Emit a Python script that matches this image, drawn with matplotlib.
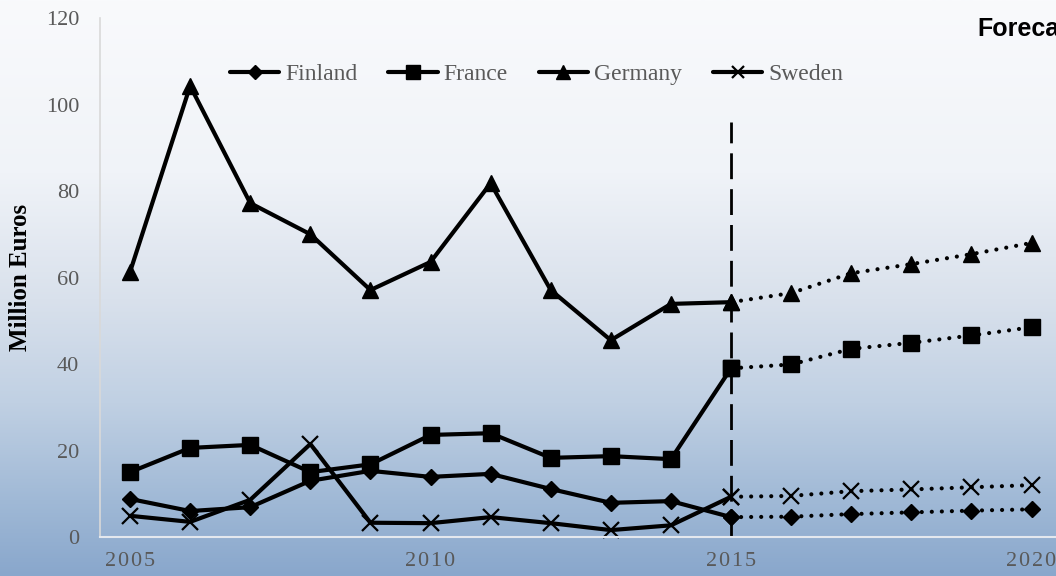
import numpy as np
import matplotlib
matplotlib.use("Agg")
import matplotlib.pyplot as plt
from matplotlib.colors import LinearSegmentedColormap

# Annual values, million euros (2005-2015 actual, 2015-2020 forecast)
years = [2005, 2006, 2007, 2008, 2009, 2010, 2011, 2012,
         2013, 2014, 2015, 2016, 2017, 2018, 2019, 2020]
finland = [8.8, 6.0, 6.9, 13.0, 15.3, 13.9, 14.6, 11.1,
           7.9, 8.3, 4.6, 4.7, 5.3, 5.7, 6.1, 6.4]
france = [15.0, 20.6, 21.3, 15.0, 16.8, 23.6, 24.0, 18.3,
          18.7, 18.0, 39.0, 39.9, 43.5, 44.9, 46.6, 48.5]
germany = [61.3, 104.3, 77.2, 70.0, 57.1, 63.6, 81.8, 57.1,
           45.5, 53.9, 54.3, 56.4, 61.0, 63.1, 65.4, 68.0]
sweden = [4.9, 3.5, 8.6, 21.5, 3.3, 3.2, 4.6, 3.2,
          1.6, 2.7, 9.3, 9.5, 10.6, 11.0, 11.5, 12.0]

countries = ["Finland", "France", "Germany", "Sweden"]
series = [finland, france, germany, sweden]
forecast_start = 2015
x_ticks = [2005, 2010, 2015, 2020]
y_ticks = [0, 20, 40, 60, 80, 100, 120]

markers = {"Finland": dict(marker="D", markersize=8.5),
           "France": dict(marker="s", markersize=12),
           "Germany": dict(marker="^", markersize=12),
           "Sweden": dict(marker="x", markersize=11, markeredgewidth=1.6)}

fig = plt.figure(figsize=(10.56, 5.76), dpi=100)

# vertical background gradient over the whole figure
bg = fig.add_axes([0, 0, 1, 1], zorder=-10)
grad_cmap = LinearSegmentedColormap.from_list(
    "bg", [(0.00, (249/255, 250/255, 252/255)),
           (0.30, (240/255, 243/255, 248/255)),
           (0.52, (217/255, 225/255, 236/255)),
           (0.70, (192/255, 208/255, 227/255)),
           (0.87, (160/255, 185/255, 214/255)),
           (1.00, (137/255, 167/255, 204/255))])
bg.imshow(np.linspace(0, 1, 256).reshape(-1, 1), aspect="auto",
          cmap=grad_cmap, extent=[0, 1, 0, 1])
bg.set_axis_off()

ax = fig.add_axes([0.0947, 0.0677, 0.9106, 0.9010])
ax.set_facecolor("none")

yrs = np.array(years)
hist = yrs <= forecast_start
fut = yrs >= forecast_start

for name, vals in zip(countries, series):
    v = np.array(vals)
    ax.plot(yrs[hist], v[hist], color="black", lw=3, label=name,
            solid_capstyle="round", solid_joinstyle="round",
            markerfacecolor="black", markeredgecolor="black",
            clip_on=False, **markers[name])
    ax.plot(yrs[fut], v[fut], color="black", lw=3,
            linestyle=(0, (0.01, 2.4)), dash_capstyle="round",
            markerfacecolor="black", markeredgecolor="black",
            clip_on=False, **markers[name])

# divider between actual and forecast values
ax.plot([forecast_start, forecast_start], [0, 96], color="black", lw=2,
        dashes=(9.3, 3.6), zorder=1)

ax.set_xlim(2004.5, 2020.5)
ax.set_ylim(0, 120)
ax.set_xticks(x_ticks)
ax.set_xticklabels(["\u200a".join(str(t)) for t in x_ticks],
                   family=["Liberation Serif", "DejaVu Serif"],
                   fontsize=16, color="#595959")
ax.set_yticks(y_ticks)
ax.set_yticklabels([str(t) for t in y_ticks], family="Liberation Serif",
                   fontsize=16, color="#595959")
ax.tick_params(axis="both", length=0)
ax.tick_params(axis="x", pad=11)
ax.tick_params(axis="y", pad=15)

for side in ["top", "right"]:
    ax.spines[side].set_visible(False)
ax.spines["left"].set_color("#d9d9d9")
ax.spines["left"].set_linewidth(1.2)
ax.spines["bottom"].set_color("#e4e8ee")
ax.spines["bottom"].set_linewidth(1.5)

ax.set_ylabel("Million Euros", family="Liberation Serif", fontweight="bold",
              fontsize=18, color="black")
ax.yaxis.set_label_coords(-0.0707, 0.5)

leg = fig.legend(loc="center", bbox_to_anchor=(0.508, 0.871), ncol=4,
                 frameon=False, handlelength=2.1, handletextpad=0.25,
                 columnspacing=1.3, markerscale=0.8,
                 prop={"family": "Liberation Serif", "size": 17})
for t in leg.get_texts():
    t.set_color("#595959")

fig.text(977 / 1056, 1 - 29 / 576, "Forecast", family="Liberation Sans",
         fontweight="bold", fontsize=18, color="black",
         ha="left", va="center")

fig.savefig("out.png", dpi=100)
